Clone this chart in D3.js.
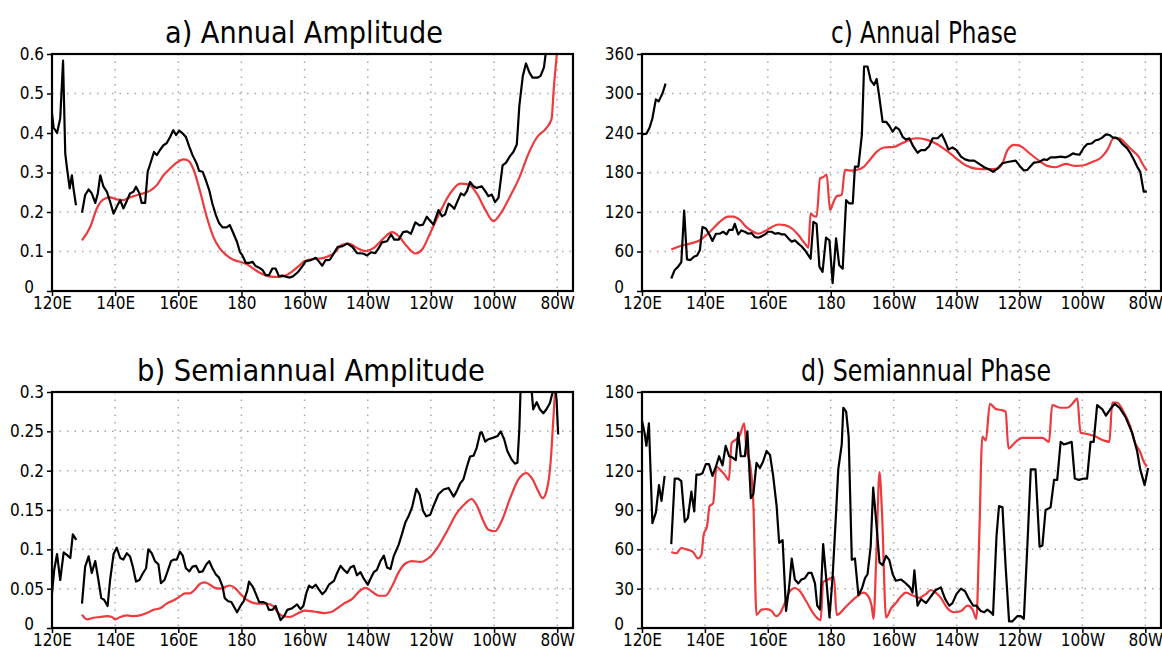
<!DOCTYPE html>
<html>
<head>
<meta charset="utf-8">
<script src="https://cdn.jsdelivr.net/npm/d3@7/dist/d3.min.js"></script>
<style>
  body { margin: 0; background: #fff; }
  svg { display: block; }
  .tick text { font-family: "DejaVu Sans Condensed", "DejaVu Sans", sans-serif; font-size: 17px; fill: #000; }
  .title { font-family: "DejaVu Sans Condensed", "DejaVu Sans", sans-serif; font-size: 31px; fill: #000; }
  .grid line { stroke: #a8a8a8; stroke-width: 1.5; stroke-dasharray: 1.5,6; }
</style>
</head>
<body>
<div id="chart"></div>
<script>
// longitudes in degrees east (0-360); null marks missing data
var lonTicks = [120, 140, 160, 180, 200, 220, 240, 260, 280];

var annAmpTicks = [0, 0.1, 0.2, 0.3, 0.4, 0.5, 0.6];
var semiAmpTicks = [0, 0.05, 0.1, 0.15, 0.2, 0.25, 0.3];
var annPhaseTicks = [0, 60, 120, 180, 240, 300, 360];
var semiPhaseTicks = [0, 30, 60, 90, 120, 150, 180];

var annAmpObs = [[120,0.45],[120.5,0.414],[121.6,0.40],[122.6,0.437],[123.5,0.583],[124.2,0.348],[124.7,0.314],[125.6,0.26],[126.3,0.293],[126.8,0.26],[127.6,0.217],[128.5,null],
  [129.5,0.198],[130.5,0.243],[131.6,0.257],[132.6,0.247],[133.7,0.223],[134.5,0.247],[135.3,0.293],[136.3,0.264],[137.4,0.251],[138.4,0.226],[139.5,0.196],[140.5,0.213],[141.6,0.23],[142.6,0.209],[143.7,0.228],[144.7,0.247],[145.8,0.251],[146.6,0.264],[147.7,0.247],[148.4,0.223],[149.5,0.223],[150.3,0.302],[151,0.319],[152.3,0.352],[153.2,0.344],[154.2,0.357],[155.3,0.369],[156.3,0.374],[157.4,0.39],[158.4,0.407],[159.3,0.395],[160.3,0.406],[161.4,0.399],[162.4,0.39],[163.5,0.365],[164.5,0.344],[165.8,0.323],[166.6,0.304],[167.7,0.302],[168.7,0.281],[169.8,0.255],[170.8,0.221],[171.9,0.192],[172.9,0.172],[174,0.161],[175.3,0.161],[176.3,0.167],[177.4,0.147],[178.6,0.124],[179.5,0.099],[180.3,0.09],[181.4,0.071],[182.4,0.071],[183.5,0.074],[184.5,0.063],[185.6,0.059],[186.8,0.052],[187.7,0.04],[188.7,0.04],[189.8,0.057],[190.8,0.057],[191.9,0.037],[192.9,0.039],[194.2,0.036],[195.3,0.034],[196.3,0.037],[197.9,0.048],[199.3,0.063],[200.3,0.075],[201.9,0.078],[203.5,0.084],[204.5,0.075],[205.6,0.064],[206.6,0.078],[208,0.079],[209.3,0.096],[210.5,0.112],[211.9,0.113],[213.5,0.12],[215.1,0.112],[216.6,0.096],[218.5,0.095],[219.8,0.09],[221,0.098],[222.4,0.096],[223.5,0.109],[224.5,0.123],[226.1,0.126],[227.4,0.143],[228.4,0.13],[229.8,0.13],[231.2,0.149],[232.4,0.151],[233.7,0.145],[235.1,0.174],[236.4,0.166],[237.5,0.168],[238.7,0.188],[239.8,0.177],[240.8,0.168],[242.4,0.205],[243.5,0.189],[244.5,0.194],[245.6,0.221],[246.6,0.215],[247.4,0.208],[248.4,0.227],[249.5,0.247],[250.5,0.242],[251.4,0.253],[252.4,0.276],[253.5,0.265],[254.5,0.261],[256.1,0.265],[257.2,0.253],[258.2,0.24],[259.3,0.244],[260.3,0.225],[261.4,0.236],[262.7,0.318],[263.8,0.325],[265.1,0.342],[266.1,0.352],[267.2,0.371],[268,0.468],[269.1,0.544],[270.1,0.576],[271.2,0.553],[272.2,0.54],[273.7,0.54],[274.7,0.544],[275.8,0.566],[276.5,0.61]];

var annAmpModel = [[129.5,0.128],[132.1,0.162],[134.2,0.209],[136.3,0.232],[138.4,0.237],[140.5,0.232],[142.6,0.23],[144.7,0.237],[147.9,0.245],[151.1,0.254],[153.2,0.268],[155.3,0.293],[157.4,0.31],[159.5,0.325],[161.6,0.333],[163.2,0.33],[164.7,0.31],[166.8,0.255],[169,0.188],[171.1,0.137],[173.2,0.107],[175.3,0.09],[177.4,0.079],[179.5,0.074],[181.6,0.068],[183.7,0.057],[185.8,0.046],[187.9,0.039],[190,0.036],[192.1,0.036],[194.2,0.04],[196.3,0.051],[198.4,0.065],[200,0.076],[202.9,0.081],[206.1,0.084],[209.3,0.096],[211.9,0.117],[214,0.12],[216.6,0.109],[219.3,0.101],[221.9,0.109],[225.1,0.134],[227.7,0.149],[229.8,0.139],[232.4,0.113],[235.1,0.095],[237.2,0.105],[239.8,0.147],[242.9,0.2],[246.1,0.247],[249.3,0.272],[251.9,0.27],[254.5,0.247],[257.2,0.206],[259.8,0.177],[261.9,0.194],[265.1,0.24],[268.2,0.291],[270.8,0.346],[273.5,0.388],[276.6,0.413],[278.2,0.435],[278.9,0.511],[280,0.61]];

var semiAmpObs = [[120,0.044],[120.7,0.074],[121.6,0.094],[122.6,0.061],[123.7,0.096],[124.7,0.093],[125.8,0.089],[126.6,0.119],[127.7,0.112],[128.5,null],
  [129.5,0.031],[130.5,0.078],[131.6,0.091],[132.6,0.07],[133.7,0.085],[134.7,0.061],[135.6,0.038],[136.5,0.036],[137.6,0.028],[138.4,0.061],[139.5,0.094],[140.5,0.102],[141.6,0.089],[142.6,0.087],[143.7,0.095],[144.7,0.091],[145.6,0.078],[146.6,0.059],[147.7,0.061],[148.7,0.069],[149.8,0.076],[150.5,0.1],[151.6,0.095],[152.6,0.085],[153.7,0.081],[154.5,0.057],[155.6,0.061],[156.6,0.072],[157.7,0.085],[158.6,0.087],[159.5,0.087],[160.5,0.097],[161.4,0.092],[162.4,0.076],[163.5,0.072],[164.5,0.078],[165.6,0.079],[166.6,0.071],[167.7,0.072],[168.9,0.081],[169.8,0.085],[170.8,0.076],[171.9,0.068],[172.9,0.064],[174,0.053],[174.7,0.038],[175.8,0.034],[176.8,0.033],[177.9,0.025],[178.6,0.02],[179.7,0.028],[180.7,0.034],[181.8,0.047],[182.4,0.059],[183.5,0.053],[184.5,0.044],[185.6,0.033],[186.8,0.033],[187.9,0.031],[188.7,0.023],[189.8,0.023],[190.8,0.028],[191.6,0.019],[192.4,0.01],[193.5,0.015],[194.5,0.023],[196,0.025],[197.6,0.03],[198.7,0.024],[199.6,0.028],[200.6,0.045],[201.4,0.054],[202.4,0.051],[203.5,0.055],[204.5,0.049],[205.6,0.043],[206.6,0.047],[207.7,0.055],[209.3,0.06],[210.3,0.07],[211.4,0.079],[212.4,0.074],[213.5,0.07],[214.5,0.077],[215.6,0.079],[216.6,0.067],[217.7,0.071],[218.7,0.063],[220,0.055],[220.8,0.062],[221.9,0.071],[222.9,0.074],[224,0.085],[225.1,0.092],[226.1,0.077],[227.2,0.075],[228.2,0.091],[229.8,0.106],[230.8,0.119],[231.9,0.134],[232.9,0.142],[234,0.153],[235.4,0.177],[236.4,0.17],[237.5,0.149],[238.5,0.142],[239.8,0.144],[240.8,0.155],[242.4,0.17],[244,0.176],[245.6,0.178],[247.2,0.167],[248.2,0.174],[249.3,0.184],[250.3,0.189],[251.4,0.205],[252.4,0.218],[253.5,0.219],[254.5,0.229],[255.6,0.248],[256.1,0.249],[257.2,0.237],[258.2,0.24],[259.8,0.242],[261.1,0.244],[262.1,0.25],[263.2,0.24],[264.2,0.225],[265.6,0.214],[266.6,0.209],[267.4,0.21],[268,0.252],[268.6,0.33],[271.3,0.33],[272.4,0.278],[273.5,0.287],[274.5,0.278],[275.6,0.273],[276.6,0.278],[277.7,0.286],[278.5,0.299],[279.3,0.31],[279.8,0.29],[280.3,0.246]];

var semiAmpModel = [[129.5,0.017],[131.1,0.011],[133.2,0.013],[135.3,0.014],[137.4,0.015],[139,0.014],[140,0.011],[141.6,0.014],[143.7,0.016],[145.8,0.015],[147.9,0.016],[150,0.019],[152.1,0.023],[154.2,0.025],[156.3,0.031],[158.4,0.035],[160.5,0.04],[162.1,0.044],[163.7,0.044],[165.3,0.049],[166.8,0.056],[168.4,0.058],[170,0.055],[171.6,0.051],[173.2,0.05],[174.7,0.052],[176.3,0.054],[177.9,0.051],[179.5,0.044],[181.6,0.036],[183.7,0.032],[185.8,0.031],[187.9,0.031],[190,0.028],[191.6,0.019],[193.2,0.015],[195.3,0.014],[197.6,0.018],[200,0.022],[202.9,0.021],[206.1,0.019],[208.2,0.02],[210.3,0.025],[212.4,0.031],[215.1,0.037],[217.7,0.048],[219.3,0.051],[221.4,0.046],[223.5,0.041],[225.6,0.041],[227.7,0.053],[229.8,0.071],[231.9,0.082],[234,0.085],[236.6,0.084],[239.3,0.089],[241.9,0.101],[245.1,0.123],[248.2,0.146],[250.8,0.158],[252.9,0.164],[254.5,0.156],[256.6,0.136],[258.2,0.125],[260.3,0.123],[262.4,0.136],[265.1,0.165],[267.7,0.189],[270.3,0.197],[272.2,0.189],[274,0.174],[275.4,0.165],[276.6,0.174],[277.9,0.21],[278.7,0.261],[279.3,0.3],[279.8,0.34]];

var annPhaseObs = [[120,238],[121.4,239],[122.4,248],[123.3,262],[124.4,291],[125.3,288],[126.5,300],[127.5,315],[128.4,null],
  [129.3,19],[130.4,32],[131.5,37],[132.5,44],[133.4,122],[134.3,48],[135.4,47],[136.5,52],[137.5,54],[138.4,62],[139.2,97],[140.3,95],[141.5,85],[142.4,76],[143.5,87],[144.7,87],[145.8,90],[146.9,86],[147.7,93],[148.8,93],[149.5,102],[150.6,86],[151.6,92],[152.7,90],[153.8,87],[154.8,88],[155.9,82],[156.9,81],[158,83],[159.1,86],[160.1,90],[161.2,90],[162.3,87],[163.3,88],[164.4,86],[165.4,86],[166.5,80],[167.6,75],[168.6,77],[169.7,72],[170.7,68],[171.8,62],[172.9,54],[173.6,49],[174.5,105],[175.5,102],[176.4,37],[177.4,29],[178.5,81],[179.6,77],[180.6,12],[181.7,80],[182.7,39],[183.8,34],[184.9,138],[185.9,133],[187,133],[187.7,189],[188.8,189],[189.9,237],[190.6,341],[191.7,341],[192.7,320],[193.8,313],[194.6,322],[195.5,293],[196.5,257],[197.6,257],[198.6,251],[199.7,242],[200.7,249],[201.8,245],[202.9,234],[203.9,230],[205,232],[206.2,220],[207.6,210],[208.7,214],[210,214],[211.3,220],[212.4,232],[214,232],[215.3,238],[216.4,227],[217.4,215],[218.7,218],[220,214],[221.4,204],[222.7,200],[224,198],[225.6,198],[227.2,193],[228.8,188],[230.3,185],[231.6,181],[233,186],[234.6,194],[236.2,196],[238.8,198],[240.1,190],[241.4,183],[242.5,184],[243.6,190],[244.6,195],[246.2,196],[247.8,200],[248.8,199],[249.9,203],[251.5,203],[253.1,204],[254.7,203],[255.7,205],[257,209],[257.8,208],[259.1,207],[260.5,218],[261.5,223],[262.9,224],[264.2,229],[265.2,230],[266.3,233],[267.5,238],[268.6,237],[269.7,233],[270.7,233],[271.8,229],[272.8,223],[274.2,217],[275.3,209],[276.3,200],[277.4,189],[278.4,181],[279.5,151],[280.5,151]];

var annPhaseModel = [[129.3,63],[132,68],[135.2,72],[138.4,77],[140.5,85],[142.6,95],[144.7,105],[147.4,113],[149,113],[151.1,108],[153.2,97],[155.4,90],[157,87],[159.1,91],[161.2,97],[163.3,101],[165.4,100],[167.6,95],[169.7,85],[171.8,72],[172.9,66],[173.6,118],[174.5,114],[175.5,113],[176.6,171],[177.6,173],[178.7,177],[179.8,123],[180.8,134],[181.9,144],[183.5,146],[184.5,184],[186.1,183],[188.3,184],[190.4,188],[192.4,199],[194.5,211],[197,218],[200.2,219],[202.9,225],[207.1,232],[210.3,230],[213.4,224],[216.6,214],[219.8,202],[222.9,191],[226.1,186],[230.3,185],[233,186],[234.6,194],[236.2,214],[238.3,222],[240.4,220],[243,210],[246.2,198],[248.8,190],[251.5,188],[254.7,193],[257.8,190],[260.5,191],[263.1,196],[265.8,202],[267.9,214],[270,232],[271.8,232],[273.7,224],[275.8,214],[277.9,204],[279,194],[280.5,183]];

var semiPhaseObs = [[120,158],[120.8,149],[121.4,139],[122.2,156],[123.3,80],[124.4,88],[125.4,109],[126.2,97],[127.2,116],[128.3,null],
  [129.3,64],[130.4,114],[131.5,114],[132.5,112],[133.6,81],[134.6,84],[135.7,104],[136.6,89],[137.3,117],[138.4,117],[139.2,118],[140.3,125],[141.3,125],[142.4,116],[143.5,123],[144.5,131],[145.6,124],[146.6,139],[147.7,131],[148.8,130],[149.8,128],[150.6,149],[151.4,131],[152.7,131],[153.5,150],[154.6,99],[155.4,102],[156.4,126],[157.5,122],[158.5,127],[159.6,135],[160.7,132],[161.7,116],[162.8,93],[163.6,65],[164.7,67],[165.8,13],[166.8,32],[167.6,53],[168.6,37],[169.7,34],[170.7,37],[171.8,38],[172.9,42],[173.9,42],[175,34],[175.7,17],[176.6,14],[177.6,64],[178.7,34],[179.6,8],[180.6,39],[181.7,88],[182.4,121],[183.5,140],[184,168],[184.9,165],[185.7,146],[186.7,52],[187.7,53],[188.8,25],[189.9,30],[190.9,38],[191.7,41],[192.7,62],[193.5,107],[194.5,80],[195.5,50],[196.5,48],[197.6,55],[198.6,52],[199.7,41],[200.7,36],[202.3,37],[203.9,34],[205.2,31],[206,27],[206.6,44],[207.6,17],[208.7,22],[210.3,19],[211.8,24],[213.4,29],[215,31],[216.4,22],[217.7,17],[218.7,19],[220,26],[221.4,30],[222.7,28],[224,22],[225.3,17],[226.3,17],[227.7,13],[228.8,12],[229.8,14],[230.9,12],[231.6,10],[232.7,70],[233.5,93],[234.6,92],[235.6,47],[236.7,5],[237.7,5],[239.3,9],[240.4,9],[241.4,7],[242.5,62],[243.6,121],[245.1,121],[246.4,62],[247.3,63],[248.3,90],[249.9,92],[251,113],[252,113],[253.1,142],[254.1,140],[255.5,141],[256.6,142],[257.6,114],[258.9,113],[260.5,114],[261.5,114],[262.6,142],[263.6,142],[264.7,170],[266.3,167],[267.5,162],[268.9,167],[270.3,171],[271.8,168],[273.7,161],[275.8,149],[277.4,135],[278.4,121],[279.8,109],[280.9,122]];

var semiPhaseModel = [[129.3,58],[130.9,57],[132.5,61],[134.1,60],[136.2,58],[137.8,53],[138.9,56],[139.6,71],[140.7,78],[141.5,93],[142.6,95],[143.7,123],[144.7,121],[146.3,117],[147.6,113],[148.5,141],[150,144],[151.1,147],[152.5,156],[153.2,136],[154.3,126],[155.4,95],[156.4,10],[158,14],[159.6,14.5],[161.2,13],[162.6,9],[163.8,11],[165.4,19],[167,28],[168.6,30.5],[170.2,28],[172.3,20],[174.5,11],[176,7],[176.8,6],[177.6,35],[179.2,37],[181,39],[181.9,10],[185.1,17],[188.3,24],[190.4,27],[192,24],[193,17],[193.6,7],[194.5,55],[195.5,119],[196.3,88],[197.6,8],[199.2,15],[200.7,19],[202.3,24],[203.9,27],[206,25],[208.1,23],[210.3,26],[211.8,29],[213.4,27],[215,23],[217.1,15],[219.2,12],[221.4,13],[223.5,17],[225.1,14],[226.3,7],[227.2,68],[228.2,146],[229.3,143],[230.6,171],[232.5,167],[234.6,166],[235.6,165],[236.5,137],[238.8,142],[240.9,145],[244.1,145],[247.3,145],[249.4,142],[250.4,170],[253.1,168],[255.2,168],[256.8,171],[258.4,175],[259.4,149],[261.5,148],[264.2,146],[266.8,143],[268.6,142],[269.5,172],[271,172],[273.1,165],[275.2,154],[276.8,141],[278.4,134],[279.5,127],[280.5,123]];


var width = 1162, height = 652;
var svg = d3.select('#chart').append('svg')
  .attr('width', width)
  .attr('height', height);

// panel boxes in pixels; title widths follow the wide GrADS lettering
var panels = [
  {id: 'a', title: 'a) Annual Amplitude', left: 52, top: 54, right: 573, bottom: 291, titleX: 304, titleW: 278,
   yTicks: annAmpTicks, obs: annAmpObs, model: annAmpModel},
  {id: 'b', title: 'b) Semiannual Amplitude', left: 52, top: 392, right: 573, bottom: 628, titleX: 311, titleW: 348,
   yTicks: semiAmpTicks, obs: semiAmpObs, model: semiAmpModel},
  {id: 'c', title: 'c) Annual Phase', left: 642, top: 54, right: 1161, bottom: 291, titleX: 924, titleW: 186,
   yTicks: annPhaseTicks, obs: annPhaseObs, model: annPhaseModel},
  {id: 'd', title: 'd) Semiannual Phase', left: 642, top: 392, right: 1161, bottom: 628, titleX: 926, titleW: 250,
   yTicks: semiPhaseTicks, obs: semiPhaseObs, model: semiPhaseModel}
];

function lonLabel(d) {
  if (d < 180) return d + 'E';
  if (d == 180) return '180';
  return (360 - d) + 'W';
}

panels.forEach(function(p) {
  var x = d3.scaleLinear().domain([120, 285]).range([p.left, p.right]);
  var yMax = p.yTicks[p.yTicks.length - 1];
  var y = d3.scaleLinear().domain([0, yMax]).range([p.bottom, p.top]);
  var g = svg.append('g').attr('class', 'panel-' + p.id);

  // dotted grid
  var grid = g.append('g').attr('class', 'grid');
  grid.selectAll('line.v').data(lonTicks.slice(1)).enter().append('line')
    .attr('x1', x).attr('x2', x)
    .attr('y1', p.top).attr('y2', p.bottom);
  grid.selectAll('line.h').data(p.yTicks.slice(1, -1)).enter().append('line')
    .attr('x1', p.left).attr('x2', p.right)
    .attr('y1', y).attr('y2', y);

  // clip for lines running off the top
  svg.append('clipPath').attr('id', 'clip-' + p.id)
    .append('rect')
    .attr('x', p.left).attr('y', p.top)
    .attr('width', p.right - p.left).attr('height', p.bottom - p.top);

  var line = d3.line()
    .defined(function(d) { return d[1] != null; })
    .x(function(d) { return x(d[0]); })
    .y(function(d) { return y(d[1]); });

  var lines = g.append('g').attr('clip-path', 'url(#clip-' + p.id + ')');
  lines.append('path').datum(p.model)
    .attr('d', line.curve(d3.curveMonotoneX))
    .attr('fill', 'none').attr('stroke', '#ee3a3d').attr('stroke-width', 2.2);
  lines.append('path').datum(p.obs)
    .attr('d', line.curve(d3.curveLinear))
    .attr('fill', 'none').attr('stroke', '#000').attr('stroke-width', 2.2)
    .attr('stroke-linejoin', 'round');

  // axes
  var xAxis = d3.axisBottom(x).tickValues(lonTicks).tickFormat(lonLabel)
    .tickSize(5).tickPadding(1);
  var yAxis = d3.axisLeft(y).tickValues(p.yTicks).tickFormat(d3.format('~g'))
    .tickSize(5).tickPadding(3);

  g.append('g').attr('transform', 'translate(0,' + p.bottom + ')').call(xAxis)
    .call(function(a) { a.select('.domain').remove(); })
    .selectAll('line').attr('stroke', '#000').attr('stroke-width', 1.5);
  var ya = g.append('g').attr('transform', 'translate(' + p.left + ',0)').call(yAxis)
    .call(function(a) { a.select('.domain').remove(); });
  ya.selectAll('line').attr('stroke', '#000').attr('stroke-width', 1.5);
  // keep the zero label clear of the first longitude label
  ya.selectAll('.tick text').filter(function(d) { return d === 0; })
    .attr('x', -18).attr('dy', '0.1em');

  // frame
  g.append('rect')
    .attr('x', p.left).attr('y', p.top)
    .attr('width', p.right - p.left).attr('height', p.bottom - p.top)
    .attr('fill', 'none').attr('stroke', '#000').attr('stroke-width', 2.2);

  // title
  g.append('text').attr('class', 'title')
    .attr('x', p.titleX).attr('y', p.top - 11)
    .attr('text-anchor', 'middle')
    .attr('textLength', p.titleW)
    .attr('lengthAdjust', 'spacingAndGlyphs')
    .text(p.title);
});
</script>
</body>
</html>
